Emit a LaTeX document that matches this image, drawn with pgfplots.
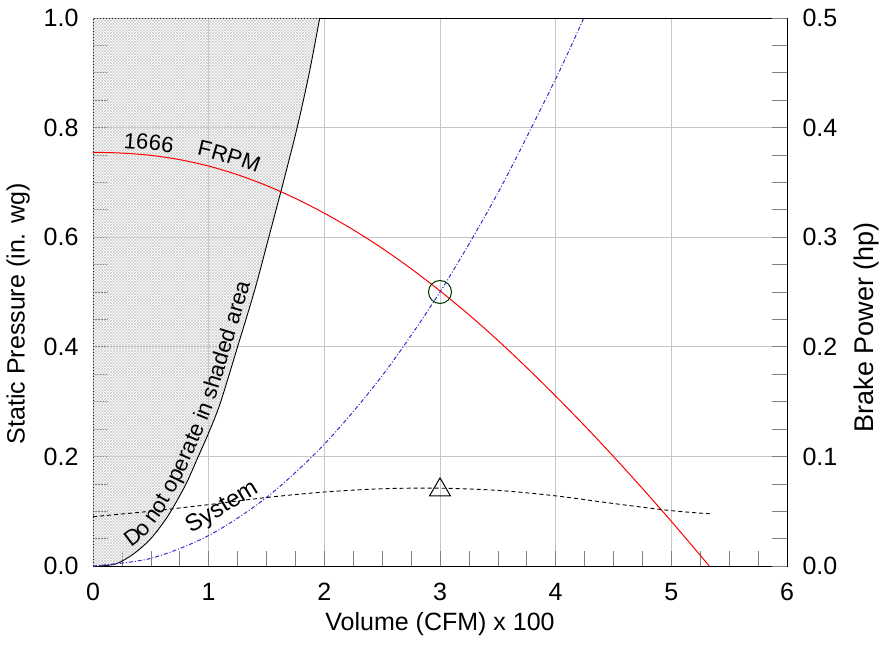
\documentclass[border=0pt]{standalone}
\usepackage{pgfplots}
\pgfplotsset{compat=1.18}
\usepackage{fontspec}
\setmainfont{Liberation Sans}
\usetikzlibrary{patterns,decorations.text}

\pgfplotstableread{
x y
0.05 0
0.2 0.004
0.35 0.022
0.5 0.05
0.65 0.092
0.8 0.148
0.9 0.195
1.0 0.243
1.1 0.297
1.25 0.4
1.4 0.505
1.52 0.6
1.645 0.7
1.765 0.8
1.87 0.9
1.96 1.0
}\stall

\pgfplotstableread{
x y
0 0.755
0.25 0.7535
0.5 0.7493
0.75 0.7415
1 0.7298
1.25 0.714
1.5 0.6943
1.75 0.6708
2 0.6438
2.25 0.6135
2.5 0.5798
2.75 0.5425
3 0.502
3.25 0.4585
3.5 0.4118
3.75 0.362
4 0.31
4.25 0.256
4.5 0.1998
4.75 0.1415
5 0.0815
5.25 0.0195
5.328 0
}\fan

\pgfplotstableread{
x y
0 0
0.5 0.0139
1 0.0556
1.5 0.125
2 0.2222
2.5 0.3472
3 0.5
3.5 0.6806
4 0.8889
4.243 1.0
}\syscurve

\pgfplotstableread{
x y
0 0.045
0.5 0.05
1 0.056
1.5 0.0625
2 0.0675
2.5 0.0705
3 0.071
3.5 0.069
4 0.064
4.5 0.057
5 0.0505
5.35 0.0475
}\power

\begin{document}
\begin{tikzpicture}
\begin{axis}[
  scale only axis, width=694pt, height=548pt,
  xmin=0, xmax=6, ymin=0, ymax=1,
  xtick={0,1,2,3,4,5,6}, ytick={0,0.2,0.4,0.6,0.8,1.0},
  minor x tick num=3, minor y tick num=3,
  xtick pos=bottom, ytick pos=left,
  tick align=inside,
  major tick length=15pt, minor tick length=15pt,
  every tick/.style={gray, line width=0.6pt},
  grid=major, major grid style={gray!45, line width=0.8pt},
  axis line style={black, line width=0.8pt},
  tick label style={font=\fontsize{25}{29}\selectfont},
  /pgf/number format/assume math mode=true,
  yticklabel style={/pgf/number format/fixed,/pgf/number format/fixed zerofill,/pgf/number format/precision=1, xshift=-11pt},
  xticklabel style={yshift=-14pt},
  xlabel={Volume (CFM) x 100},
  ylabel={Static Pressure (in. wg)},
  label style={font=\fontsize{25}{29}\selectfont},
  xlabel style={at={(axis description cs:0.5,-0.106)}, anchor=center},
  ylabel style={at={(axis description cs:-0.108,0.46)}, anchor=center},
]
% shaded (do not operate) region
\addplot[draw=none, pattern=north east lines, pattern color=gray!38,
  postaction={pattern=north west lines, pattern color=gray!38}]
  table {\stall} -- (axis cs:0,1) -- (axis cs:0,0) -- cycle;
\addplot[black, line width=0.9pt, smooth] table {\stall};
\addplot[draw=none, smooth, postaction={decorate},
  decoration={text along path, raise=6pt, text align=left,
  text={|\fontsize{22}{26}\selectfont|Do not  operate in shaded area}}]
  coordinates {(0.36,0.026) (0.5,0.05) (0.65,0.092) (0.8,0.148) (0.9,0.195) (1.0,0.243) (1.1,0.297) (1.25,0.4) (1.4,0.505) (1.52,0.6) (1.645,0.7) (1.765,0.8)};
% fan curve
\addplot[red, line width=1pt, smooth] table {\fan};
\addplot[draw=none, smooth, postaction={decorate},
  decoration={text along path, raise=5pt, text align=left,
  text={|\fontsize{22}{26}\selectfont|1666}}]
  coordinates {(0.26,0.7535) (0.5,0.7493) (0.75,0.7415) (1,0.7298) (1.25,0.714) (1.5,0.6943) (1.75,0.6708)};
\addplot[draw=none, smooth, postaction={decorate},
  decoration={text along path, raise=8pt, text align=left,
  text={|\fontsize{22}{26}\selectfont|FRPM}}]
  coordinates {(0.88,0.736) (1,0.7298) (1.25,0.714) (1.5,0.6943) (1.75,0.6708) (2,0.6438)};
% system curve
\addplot[color={rgb,255:red,55;green,45;blue,200}, line width=1pt, smooth,
  dash pattern=on 4pt off 2pt on 1pt off 2pt] table {\syscurve};
\addplot[only marks, mark=o, mark size=11.5pt, line width=1pt, black!80!green] coordinates {(3,0.5)};
\node[rotate=31, font=\fontsize{24}{28}\selectfont] at (axis cs:1.12,0.106) {System};
\end{axis}
\begin{axis}[
  scale only axis, width=694pt, height=548pt,
  xmin=0, xmax=6, ymin=0, ymax=0.5,
  axis x line=none, axis y line*=right,
  ytick={0,0.1,0.2,0.3,0.4,0.5},
  minor y tick num=3,
  tick align=inside,
  major tick length=15pt, minor tick length=15pt,
  every tick/.style={gray, line width=0.6pt},
  axis line style={black, line width=0.8pt},
  tick label style={font=\fontsize{25}{29}\selectfont},
  /pgf/number format/assume math mode=true,
  yticklabel style={/pgf/number format/fixed,/pgf/number format/fixed zerofill,/pgf/number format/precision=1, xshift=12pt},
  ylabel={Brake Power (hp)},
  label style={font=\fontsize{27}{31}\selectfont},
  ylabel style={at={(axis description cs:1.115,0.436)}, anchor=center},
]
\addplot[black, line width=0.9pt, smooth, dash pattern=on 4pt off 3pt] table {\power};
\addplot[only marks, mark=triangle, mark size=12pt, line width=1pt, black] coordinates {(3,0.0695)};
\end{axis}
\pgfresetboundingbox
\path[use as bounding box] ([shift={(-93pt,-79pt)}]current axis.south west) rectangle ([shift={(98pt,18pt)}]current axis.north east);
\end{tikzpicture}
\end{document}
